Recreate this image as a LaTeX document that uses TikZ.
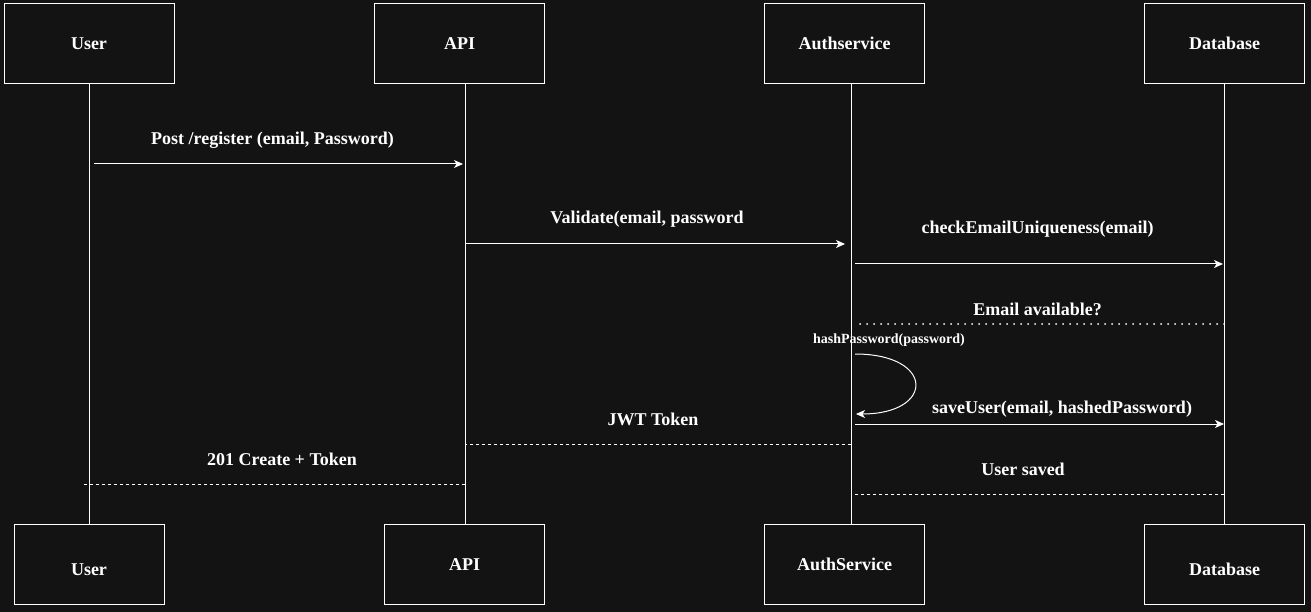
\documentclass[tikz,border=0pt]{standalone}
\usepackage{fontspec}
\setmainfont{Liberation Serif}
\usepackage{tikz}
\usetikzlibrary{arrows.meta}
\definecolor{bg}{RGB}{19,19,19}
\tikzset{
	actor/.style={rectangle, draw=white, fill=bg, line width=1pt, minimum width=160pt, minimum height=80pt, inner sep=0pt, text height=12pt, text depth=0pt, text=white, font=\fontsize{18pt}{20pt}\selectfont\bfseries},
	life/.style={draw=white, line width=1pt},
	msg/.style={draw=white, line width=1pt, -{Stealth[length=9pt, width=8pt, inset=2.5pt]}},
	ret/.style={draw=white, line width=1pt, dash pattern=on 3pt off 3pt},
	lbl/.style={text=white, inner sep=0pt, font=\fontsize{18pt}{20pt}\selectfont\bfseries}
}

\begin{document}
\begin{tikzpicture}[
        x=1pt, y=-1pt,
        dots/.style={draw=white, line width=2pt, line cap=round, dash pattern=on 0pt off 7pt},
        small/.style={lbl, font=\fontsize{14pt}{16pt}\selectfont\bfseries}
    ]
        \fill[bg] (0,0) rectangle (1311,612);
        \useasboundingbox (0,0) rectangle (1311,612);

        \node[actor, minimum width=170pt] (userTop) at (89, 44) {User};
        \node[actor, minimum width=170pt] (apiTop) at (459.5, 44) {API};
        \node[actor] (authTop) at (844.5, 44) {Authservice};
        \node[actor] (dbTop) at (1224.5, 44) {Database};
        \node[actor, minimum width=150pt] (userBot) at (89, 564) {\raisebox{-5pt}{User}};
        \node[actor] (apiBot) at (464.5, 564) {API};
        \node[actor] (authBot) at (844.5, 564) {AuthService};
        \node[actor] (dbBot) at (1224.5, 564) {\raisebox{-5pt}{Database}};

        \coordinate (userX) at (89, 0);
        \coordinate (apiX) at (465, 0);
        \coordinate (authX) at (851, 0);
        \coordinate (dbX) at (1224, 0);
        \coordinate (hashA) at (855, 354);
        \coordinate (hashB) at (856, 414);

        \draw[life] (userTop) -- (userBot);
        \draw[life] (apiX |- apiTop.south) -- (apiX |- apiBot.north);
        \draw[life] (authX |- authTop.south) -- (authX |- authBot.north);
        \draw[life] (dbTop) -- (dbBot);

        \draw[msg, shorten <=5pt, shorten >=2pt] (userX |- 0,164) -- (apiX |- 0,164)
            node[lbl, midway, xshift=-4.5pt, yshift=24pt] {Post /register (email, Password)};
        \draw[msg, shorten >=6pt] (apiX |- 0,244) -- (authX |- 0,244)
            node[lbl, midway, xshift=-11pt, yshift=25pt] {Validate(email, password};
        \draw[msg, shorten <=4pt, shorten >=1pt] (authX |- 0,264) -- (dbX |- 0,264)
            node[lbl, midway, yshift=35pt] {checkEmailUniqueness(email)};
        \draw[dots, shorten >=4pt] (dbX |- 0,324) -- (authX |- 0,324)
            node[lbl, midway, yshift=15pt] {Email available?};
        \draw[msg] (hashA) .. controls (935, 354) and (935, 414) .. (hashB);
        \node[small] (hashLbl) at (889, 340) {hashPassword(password)};
        \draw[msg, shorten <=4pt] (authX |- 0,424) -- (dbX |- 0,424)
            node[lbl, midway, xshift=24.5pt, yshift=15pt] {saveUser(email, hashedPassword)};
        \draw[ret] (authX |- 0,444) -- (apiX |- 0,444)
            node[lbl, midway, xshift=-5pt, yshift=25pt] {JWT Token};
        \draw[ret, shorten >=-5pt] (apiX |- 0,484) -- (userX |- 0,484)
            node[lbl, midway, xshift=5pt, yshift=25pt] {201 Create + Token};
        \draw[ret, shorten >=2pt] (dbX |- 0,494) -- (authX |- 0,494)
            node[lbl, midway, xshift=-14.5pt, yshift=25pt] {User saved};
    \end{tikzpicture}
\end{document}
